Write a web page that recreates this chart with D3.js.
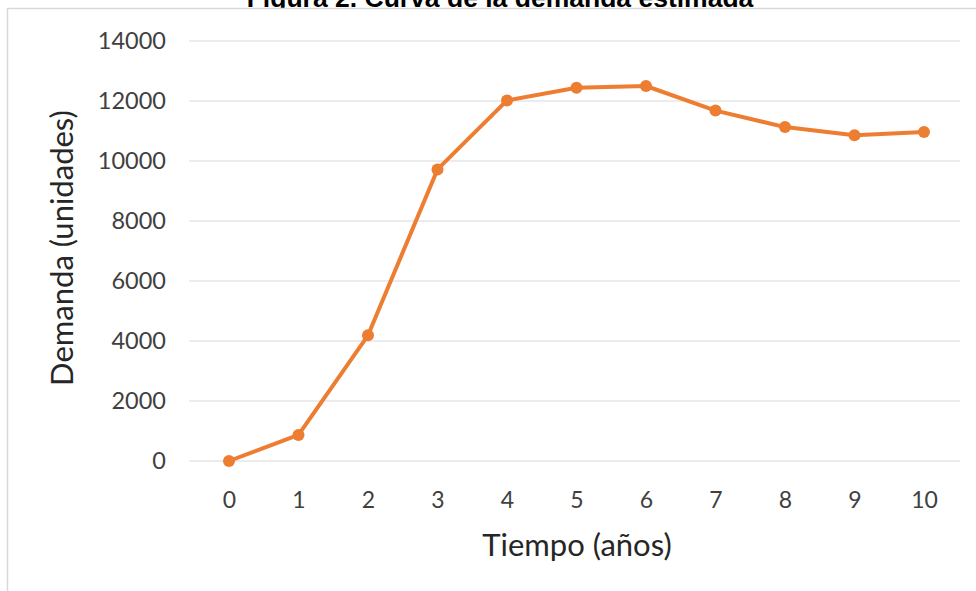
<!DOCTYPE html>
<html>
<head>
<meta charset="utf-8">
<script src="https://cdn.jsdelivr.net/npm/d3@7"></script>
<style>
  body { margin: 0; background: #fff; }
  svg { display: block; }
</style>
</head>
<body>
<svg id="chart"></svg>
<script>
// data
const years = [0, 1, 2, 3, 4, 5, 6, 7, 8, 9, 10];
const demand = [0, 870, 4190, 9720, 12020, 12440, 12500, 11680, 11130, 10860, 10970];
const yTicks = [0, 2000, 4000, 6000, 8000, 10000, 12000, 14000];

const width = 976, height = 591;
const svg = d3.select("#chart").attr("width", width).attr("height", height);

// title (partly hidden behind the chart box, as in the source)
svg.append("text")
    .attr("x", 500)
    .attr("y", 7)
    .attr("text-anchor", "middle")
    .attr("font-family", "Liberation Sans, Arial, sans-serif")
    .attr("font-weight", "bold")
    .attr("font-size", "26.5px")
    .attr("fill", "#000")
    .text("Figura 2. Curva de la demanda estimada");

// chart box
svg.append("rect")
    .attr("x", 7.5).attr("y", 8.5)
    .attr("width", width).attr("height", height)
    .attr("fill", "#fff")
    .attr("stroke", "#d9d9d9")
    .attr("stroke-width", 1.5);

const x = d3.scaleLinear().domain([0, 10]).range([229, 924]);
const y = d3.scaleLinear().domain([0, 14000]).range([461, 41]);

// gridlines
svg.append("g")
    .selectAll("line")
    .data(yTicks)
    .join("line")
    .attr("x1", 189).attr("x2", 960)
    .attr("y1", d => y(d)).attr("y2", d => y(d))
    .attr("stroke", "#d9d9d9")
    .attr("stroke-width", 1.2);

const font = "Lato, Carlito, Calibri, sans-serif";

// y axis
const yAxis = d3.axisLeft(y).tickValues(yTicks).tickSize(0).tickPadding(0).tickFormat(d => d);
svg.append("g")
    .attr("transform", "translate(166,0)")
    .call(yAxis)
    .call(g => g.select(".domain").remove())
    .selectAll("text")
    .attr("font-family", font)
    .attr("font-size", "23.5px")
    .attr("fill", "#404040");

// x axis
const xAxis = d3.axisBottom(x).tickValues(years).tickSize(0).tickPadding(0).tickFormat(d => d);
svg.append("g")
    .attr("transform", "translate(0,492)")
    .call(xAxis)
    .call(g => g.select(".domain").remove())
    .selectAll("text")
    .attr("font-family", font)
    .attr("font-size", "23px")
    .attr("fill", "#404040");

// axis titles
svg.append("text")
    .attr("x", 577)
    .attr("y", 556)
    .attr("text-anchor", "middle")
    .attr("font-family", font)
    .attr("font-size", "31px")
    .attr("fill", "#262626")
    .text("Tiempo (años)");

svg.append("text")
    .attr("transform", "translate(73,248) rotate(-90)")
    .attr("text-anchor", "middle")
    .attr("font-family", font)
    .attr("font-size", "31px")
    .attr("fill", "#262626")
    .text("Demanda (unidades)");

// line + markers
const line = d3.line()
    .x((d, i) => x(years[i]))
    .y(d => y(d));

svg.append("path")
    .datum(demand)
    .attr("d", line)
    .attr("fill", "none")
    .attr("stroke", "#ED7D31")
    .attr("stroke-width", 4)
    .attr("stroke-linejoin", "round");

svg.append("g")
    .selectAll("circle")
    .data(demand)
    .join("circle")
    .attr("cx", (d, i) => x(years[i]))
    .attr("cy", d => y(d))
    .attr("r", 6)
    .attr("fill", "#ED7D31");
</script>
</body>
</html>
